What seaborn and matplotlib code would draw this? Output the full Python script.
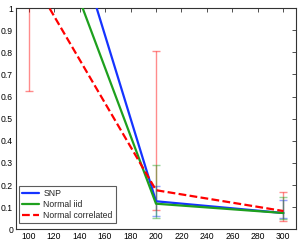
import matplotlib
matplotlib.use("Agg")
import matplotlib.pyplot as plt
import seaborn as sns
import pandas as pd
from matplotlib.ticker import FormatStrFormatter

sns.set_style("white")
plt.rcParams['font.family'] = ['Liberation Sans', 'DejaVu Sans']

n_values = [100, 200, 300]
series_names = ["SNP", "Normal iid", "Normal correlated"]
snp = [2.0, 0.127, 0.074]
normal_iid = [1.65, 0.116, 0.074]
normal_corr = [1.16, 0.177, 0.083]
snp_low = [1.6, 0.059, 0.05]
snp_high = [2.4, 0.195, 0.131]
iid_low = [1.3, 0.05, 0.048]
iid_high = [2.0, 0.29, 0.145]
corr_low = [0.627, 0.086, 0.036]
corr_high = [1.7, 0.805, 0.169]
x_ticks = [100, 120, 140, 160, 180, 200, 220, 240, 260, 280, 300]
y_ticks = [0, 0.1, 0.2, 0.3, 0.4, 0.5, 0.6, 0.7, 0.8, 0.9, 1]

colors = {"SNP": "#1533ff", "Normal iid": "#1ea01e", "Normal correlated": "#ff0000"}

rows = []
for name, vals in zip(series_names, [snp, normal_iid, normal_corr]):
    for x, v in zip(n_values, vals):
        rows.append({"n": x, "value": v, "series": name})
df = pd.DataFrame(rows)

fig = plt.figure(figsize=(3.0, 2.43), dpi=100)
ax = fig.add_axes([0.053, 0.056, 0.934, 0.911])

# error bars
for name, vals, lo, hi in [("Normal correlated", normal_corr, corr_low, corr_high),
                           ("SNP", snp, snp_low, snp_high),
                           ("Normal iid", normal_iid, iid_low, iid_high)]:
    yerr = [[v - l for v, l in zip(vals, lo)], [h - v for v, h in zip(vals, hi)]]
    ax.errorbar(n_values, vals, yerr=yerr, fmt='none', ecolor=colors[name],
                alpha=0.45, elinewidth=1.0, capsize=3, capthick=1.0, zorder=1)

sns.lineplot(data=df[df.series == "SNP"], x="n", y="value", color=colors["SNP"],
             lw=1.6, ax=ax, label="SNP", zorder=3)
sns.lineplot(data=df[df.series == "Normal iid"], x="n", y="value", color=colors["Normal iid"],
             lw=1.6, ax=ax, label="Normal iid", zorder=4)
sns.lineplot(data=df[df.series == "Normal correlated"], x="n", y="value",
             color=colors["Normal correlated"], lw=1.6, ls=(0, (3.5, 1.5)), ax=ax,
             label="Normal correlated", zorder=5)

ax.set_xlim(90, 310)
ax.set_ylim(0, 1)
ax.set_xticks(x_ticks)
ax.set_yticks(y_ticks)
ax.yaxis.set_major_formatter(FormatStrFormatter('%g'))
ax.set_xlabel("")
ax.set_ylabel("")
ax.tick_params(direction='in', length=3, width=0.6, labelsize=6.2, pad=2,
               top=True, right=True, colors='#333333', labelcolor='black')
for s in ax.spines.values():
    s.set_visible(True)
    s.set_color('#333333')
    s.set_linewidth(0.8)

leg = ax.legend(loc='lower left', bbox_to_anchor=(0.01, 0.03), fontsize=6.2,
                frameon=True, fancybox=False, edgecolor='#333333', borderpad=0.35,
                handlelength=2.0, handletextpad=0.5, labelspacing=0.2, borderaxespad=0)
leg.get_frame().set_linewidth(0.8)

fig.savefig("out.png", dpi=100)
